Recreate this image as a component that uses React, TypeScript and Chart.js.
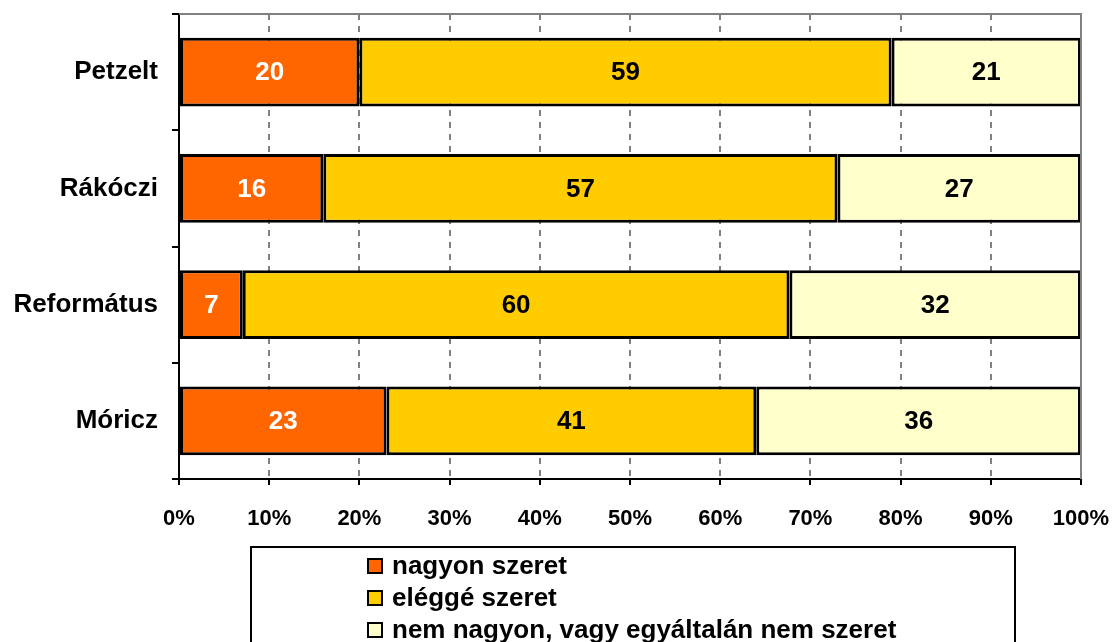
import React, { useEffect, useRef } from "react";
import { Chart, registerables } from "chart.js";

Chart.register(...registerables);

const categories = ["Petzelt", "Rákóczi", "Református", "Móricz"];
const seriesLabels = ["nagyon szeret", "eléggé szeret", "nem nagyon, vagy egyáltalán nem szeret"];
const nagyonSzeret = [20, 16, 7, 23];
const eleggeSzeret = [59, 57, 60, 41];
const nemSzeret = [21, 27, 32, 36];
const xTickValues = [0, 10, 20, 30, 40, 50, 60, 70, 80, 90, 100];

const colors = ["#FF6600", "#FFCC00", "#FFFFCC"];
const labelColors = ["#FFFFFF", "#000000", "#000000"];
const FONT = "'Liberation Sans', Arial, sans-serif";

export default function App() {
  const ref = useRef<HTMLCanvasElement | null>(null);

  useEffect(() => {
    document.body.style.margin = "0";
    const canvas = ref.current;
    if (!canvas) return;
    const raw = [nagyonSzeret, eleggeSzeret, nemSzeret];
    const totals = categories.map((_, i) => raw.reduce((s, arr) => s + arr[i], 0));
    const normalized = raw.map((arr) => arr.map((v, i) => (v / totals[i]) * 100));

    const frame = {
      id: "frame",
      afterDatasetsDraw(chart: any) {
        const { ctx, chartArea } = chart;
        ctx.save();
        ctx.strokeStyle = "#808080";
        ctx.lineWidth = 2;
        ctx.beginPath();
        ctx.moveTo(chartArea.left, chartArea.top);
        ctx.lineTo(chartArea.right, chartArea.top);
        ctx.lineTo(chartArea.right, chartArea.bottom);
        ctx.stroke();
        ctx.restore();
      },
    };

    const valueLabels = {
      id: "valueLabels",
      afterDatasetsDraw(chart: any) {
        const { ctx } = chart;
        ctx.save();
        ctx.font = `bold 26px ${FONT}`;
        ctx.textAlign = "center";
        ctx.textBaseline = "middle";
        chart.data.datasets.forEach((ds: any, di: number) => {
          const meta = chart.getDatasetMeta(di);
          meta.data.forEach((el: any, i: number) => {
            const cx = (el.x + el.base) / 2;
            ctx.fillStyle = labelColors[di];
            ctx.fillText(String(raw[di][i]), cx, el.y + 1);
          });
        });
        ctx.restore();
      },
    };

    const legendBox = {
      id: "legendBox",
      afterDraw(chart: any) {
        const { ctx } = chart;
        ctx.save();
        ctx.strokeStyle = "#000000";
        ctx.lineWidth = 2;
        ctx.strokeRect(251, 547, 764, 110);
        ctx.font = `bold 26px ${FONT}`;
        ctx.textAlign = "left";
        ctx.textBaseline = "middle";
        seriesLabels.forEach((lab, i) => {
          const cy = 566 + i * 32;
          ctx.fillStyle = colors[i];
          ctx.fillRect(368, cy - 7, 14, 14);
          ctx.lineWidth = 2;
          ctx.strokeRect(368, cy - 7, 14, 14);
          ctx.fillStyle = "#000000";
          ctx.fillText(lab, 392, cy + 1);
        });
        ctx.restore();
      },
    };

    const chart = new Chart(canvas, {
      type: "bar",
      data: {
        labels: categories,
        datasets: seriesLabels.map((lab, i) => ({
          label: lab,
          data: normalized[i],
          backgroundColor: colors[i],
          borderColor: "#000000",
          borderWidth: 3,
          borderSkipped: false,
          barPercentage: 0.59,
          categoryPercentage: 1,
        })),
      },
      options: {
        indexAxis: "y",
        animation: false,
        responsive: false,
        layout: { padding: { top: 14, right: 35, left: 0, bottom: 0 } },
        plugins: {
          legend: { display: false },
          tooltip: { enabled: false },
          title: { display: false },
        },
        scales: {
          x: {
            stacked: true,
            min: 0,
            max: 100,
            afterFit: (s: any) => {
              s.height = 163;
              s.paddingLeft = 0;
              s.paddingRight = 0;
            },
            afterBuildTicks: (s: any) => {
              s.ticks = xTickValues.map((v) => ({ value: v }));
            },
            ticks: {
              callback: (v: any) => `${v}%`,
              color: "#000000",
              font: { family: FONT, size: 22, weight: "bold" },
              padding: 21,
              maxRotation: 0,
            },
            grid: {
              color: "#808080",
              lineWidth: 2,
              tickLength: 6,
              tickColor: "#000000",
              tickBorderDash: [],
            },
            border: { color: "#000000", width: 2, dash: [6, 6] },
          },
          y: {
            stacked: true,
            afterFit: (s: any) => {
              s.width = 179;
              s.paddingTop = 0;
              s.paddingBottom = 0;
            },
            ticks: {
              color: "#000000",
              font: { family: FONT, size: 26, weight: "bold" },
              padding: 14,
            },
            grid: {
              drawOnChartArea: false,
              color: "#000000",
              lineWidth: 2,
              tickLength: 7,
              offset: true,
            },
            border: { color: "#000000", width: 2 },
          },
        },
      },
      plugins: [frame, valueLabels, legendBox],
    } as any);

    return () => chart.destroy();
  }, []);

  return (
    <div style={{ width: 1116, height: 642, position: "relative" }}>
      <canvas ref={ref} width={1116} height={642} />
    </div>
  );
}
